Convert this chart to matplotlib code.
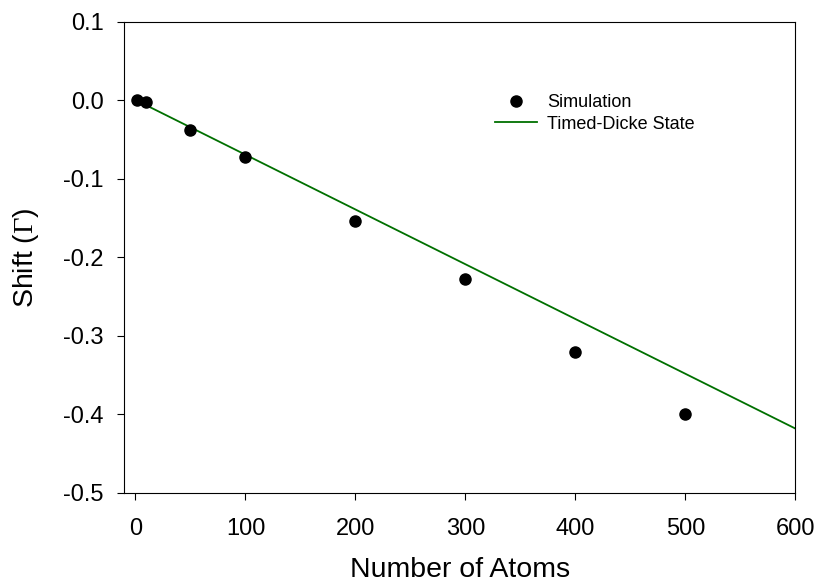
import matplotlib
matplotlib.use("Agg")
import matplotlib.pyplot as plt

plt.rcParams['font.family'] = ['Liberation Sans', 'DejaVu Sans']
plt.rcParams['mathtext.fontset'] = 'custom'
plt.rcParams['mathtext.rm'] = 'Liberation Serif'

# Data
sim_atoms = [1, 10, 50, 100, 200, 300, 400, 500]
sim_shift = [0.0, -0.002, -0.037, -0.072, -0.153, -0.228, -0.320, -0.400]
tds_atoms = [1, 600]
tds_shift = [0.0, -0.418]

xticks = [0, 100, 200, 300, 400, 500, 600]
yticks = [-0.5, -0.4, -0.3, -0.2, -0.1, 0.0, 0.1]

fig = plt.figure(figsize=(8.19, 5.88), dpi=100)
ax = fig.add_axes([0.152, 0.1616, 0.8193, 0.801])

ax.plot(sim_atoms, sim_shift, 'o', color='black', markersize=8, label='Simulation', zorder=3)
ax.plot(tds_atoms, tds_shift, '-', color='#007000', linewidth=1.3, label='Timed-Dicke State', zorder=2)

ax.set_xlim(-10, 600)
ax.set_ylim(-0.5, 0.1)
ax.set_xticks(xticks)
ax.set_xticklabels([str(t) for t in xticks])
ax.set_yticks(yticks)
ax.set_yticklabels([f"{t:.1f}" for t in yticks])

ax.tick_params(axis='both', direction='out', length=5, width=0.8, labelsize=17, top=False, right=False)
ax.tick_params(axis='x', pad=13)
ax.tick_params(axis='y', pad=10)
for s in ax.spines.values():
    s.set_linewidth(0.8)

ax.set_xlabel('Number of Atoms', fontsize=20.5, labelpad=12)
ax.set_ylabel(r'Shift ($\mathrm{\Gamma}$)', fontsize=20.5, labelpad=16)

leg = ax.legend(loc='center left', bbox_to_anchor=(495/819, 1 - 113.5/588), bbox_transform=fig.transFigure,
                frameon=False, fontsize=13, numpoints=1, handlelength=2.34, handletextpad=0.55,
                borderpad=0, borderaxespad=0, labelspacing=0.25)

fig.savefig('out.png', dpi=100)
